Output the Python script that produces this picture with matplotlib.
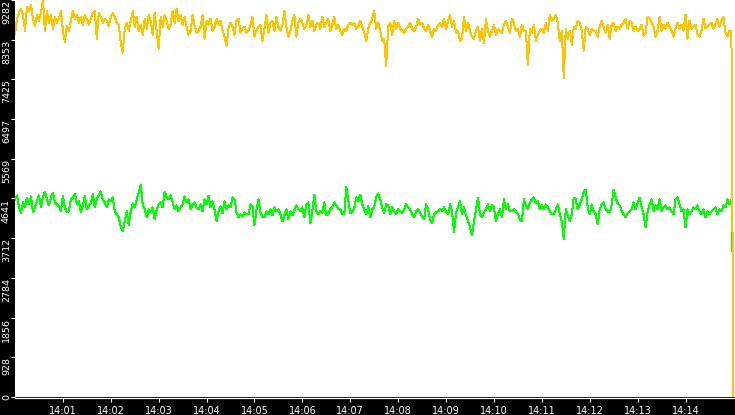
import matplotlib
matplotlib.use("Agg")
import matplotlib.pyplot as plt
import matplotlib.dates as mdates
import pandas as pd

# samples every 2.5 s from 14:00:00 to 14:15:00 (last sample is the drop at the end)
orange_vals = [
    8493, 8841, 8981, 9073, 8934, 8563, 9120, 9027, 9166, 8841,
    8679, 8934, 8795, 8981, 9282, 8563, 9027, 8749, 8934, 8609,
    8888, 8749, 8841, 9027, 8563, 8308, 8679, 8563, 8795, 9027,
    8841, 8934, 8749, 8888, 8702, 8934, 8841, 8702, 8841, 8981,
    9027, 8377, 8981, 8888, 8749,
    8841, 8795, 8679, 8888, 8981, 8888, 8749, 8702, 8285, 8053,
    8609, 8749, 8563, 8795, 9027, 8656, 8888, 8563, 8702, 8470,
    8841, 8609, 8934, 8795, 8470, 8981, 8563, 8145, 8888, 8656,
    8934, 8795, 8609, 8702, 9027, 8749, 9073, 8795, 8934, 8702,
    8888, 8656, 8470, 8563, 8934,
    8679, 8517, 8563, 8656, 8934, 8377, 8795, 8702, 8841, 8563,
    8656, 8841, 8702, 8795, 8563, 8424, 8215, 8609, 8749, 8656,
    8470, 8795, 8841, 8517, 8609, 8656, 8517, 8563, 8702, 8888,
    8424, 8563, 8656, 8702, 8331, 8609, 8934, 8517, 8749, 8795,
    8563, 8888, 8656, 8563, 8702,
    9027, 8656, 8424, 8563, 8795, 8934, 8424, 8749, 8841, 8749,
    8609, 8702, 8934, 8656, 8795, 8563, 8702, 8749, 8609, 8888,
    8656, 8749, 8841, 8563, 8702, 8888, 8609, 8702, 8563, 8470,
    8609, 8563, 8702, 8749, 8702, 8749, 8609, 8656, 8795, 8656,
    8517, 8331, 8609, 8749, 8841,
    9027, 8609, 8749, 8563, 8331, 8377, 7728, 8656, 8749, 8470,
    8795, 8609, 8749, 8609, 8563, 8517, 8609, 8656, 8749, 8609,
    8563, 8656, 8841, 8702, 8749, 8609, 8563, 8702, 8563, 8424,
    8609, 8563, 8702, 8749, 8656, 8841, 8609, 8795, 8934, 8656,
    8795, 8517, 8563, 8331, 8377,
    8888, 8563, 8749, 8563, 8424, 8377, 8563, 8656, 8331, 8609,
    8285, 8841, 8563, 8424, 8563, 8702, 8470, 8609, 8563, 8517,
    8702, 8795, 8656, 8517, 8841, 8749, 8563, 8609, 8424, 8702,
    8563, 8563, 7751, 8609, 8517, 8702, 8331, 8470, 8563, 8609,
    8517, 8749, 8563, 8934, 8795,
    8841, 8934, 8749, 8331, 8563, 7449, 8609, 8377, 8563, 8238,
    8656, 8609, 8795, 8749, 8563, 8099, 8656, 8609, 8470, 8609,
    8563, 8563, 8424, 8656, 8795, 8656, 8517, 8702, 8377, 8702,
    8749, 8563, 8656, 8609, 8702, 8749, 8841, 8609, 8795, 8749,
    8563, 8656, 8563, 8609, 8702,
    8447, 8517, 8888, 8841, 8749, 8656, 8424, 8563, 8888, 8563,
    8702, 8609, 8749, 8656, 8563, 8424, 8609, 8749, 8609, 8702,
    8563, 8934, 8377, 8795, 8609, 8656, 8702, 8470, 8424, 8563,
    8841, 8609, 8656, 8702, 8749, 8609, 8702, 8841, 8656, 8795,
    8888, 8517, 8424, 8563, 8563,
    0,
]

green_vals = [
    4619, 4712, 4433, 4294, 4549, 4433, 4665, 4503, 4689, 4317,
    4433, 4573, 4712, 4433, 4665, 4805, 4619, 4480, 4665, 4781,
    4549, 4503, 4457, 4341, 4712, 4433, 4317, 4341, 4619, 4665,
    4758, 4503, 4573, 4317, 4480, 4712, 4387, 4480, 4526, 4758,
    4433, 4619, 4735, 4805, 4619,
    4549, 4433, 4619, 4573, 4665, 4341, 4271, 4201, 3969, 3877,
    4109, 4341, 4016, 4341, 4526, 4433, 4619, 4781, 4967, 4503,
    4387, 4201, 4387, 4317, 4433, 4155, 4387, 4503, 4549, 4433,
    4805, 4665, 4619, 4712, 4549, 4387, 4480, 4341, 4433, 4503,
    4689, 4549, 4619, 4387, 4503,
    4549, 4433, 4387, 4503, 4341, 4619, 4503, 4712, 4433, 4573,
    4387, 4109, 4341, 4457, 4294, 4573, 4387, 4480, 4433, 4665,
    4619, 4317, 4201, 4271, 4225, 4317, 4271, 4271, 4503, 4457,
    4016, 4387, 4619, 4317, 4201, 4201, 4341, 4271, 4387, 4248,
    4433, 4341, 4387, 4271, 4109,
    4248, 4387, 4155, 4341, 4248, 4364, 4480, 4387, 4341, 4433,
    4201, 4503, 4549, 4062, 4341, 4735, 4341, 4271, 4341, 4294,
    4549, 4248, 4294, 4387, 4433, 4549, 4480, 4387, 4387, 4271,
    4271, 4921, 4619, 4294, 4341, 4410, 4665, 4573, 4735, 4503,
    4387, 4271, 4457, 4201, 4387,
    4433, 4665, 4758, 4619, 4433, 4294, 4503, 4480, 4271, 4433,
    4341, 4271, 4387, 4341, 4294, 4387, 4503, 4433, 4387, 4271,
    4201, 4341, 4387, 4317, 4201, 4155, 4503, 4387, 4155, 4062,
    4271, 4317, 4341, 4387, 4341, 4433, 4341, 4271, 4503, 4341,
    3853, 4294, 4433, 4573, 4271,
    4433, 4248, 4109, 3969, 3784, 4109, 4387, 4665, 4271, 4201,
    4317, 4387, 4503, 4341, 4480, 4433, 4109, 4294, 4387, 4201,
    4619, 4387, 4503, 4341, 4341, 4387, 4341, 4271, 4155, 4109,
    4619, 4480, 4387, 4549, 4619, 4665, 4526, 4573, 4387, 4480,
    4387, 4503, 4433, 4341, 4271,
    4271, 4387, 4503, 4271, 4109, 3691, 4387, 4248, 4109, 4271,
    4665, 4619, 4387, 4503, 4619, 4805, 4851, 4433, 4271, 4503,
    4341, 4271, 4039, 4387, 4503, 4549, 4387, 4341, 4317, 4503,
    4851, 4665, 4526, 4480, 4341, 4271, 4201, 4294, 4341, 4387,
    4549, 4387, 4526, 4665, 4433,
    4271, 3969, 4341, 4503, 4619, 4341, 4480, 4387, 4619, 4341,
    4433, 4480, 4387, 4433, 4341, 4271, 4619, 4665, 4503, 4341,
    4387, 3969, 4387, 4271, 4341, 4433, 4387, 4480, 4341, 4271,
    4387, 4201, 4341, 4271, 4341, 4387, 4433, 4271, 4387, 4341,
    4480, 4433, 4619, 4503, 4619,
    2390,
]

y_ticks = [0, 928, 1856, 2784, 3712, 4641, 5569, 6497, 7425, 8353, 9282]
y_max = 9282

times = pd.date_range("2024-01-01 14:00:00", periods=len(orange_vals), freq="2500ms")

fig = plt.figure(figsize=(7.35, 4.15), dpi=100, facecolor="black")
ax = fig.add_axes([15 / 735, 18 / 415, 720 / 735, 397 / 415])
ax.set_facecolor("white")

ax.plot(times, green_vals, color="#00ff00", lw=0.72, antialiased=False)
ax.plot(times, orange_vals, color="#ffc400", lw=0.72, antialiased=False)

ax.set_ylim(0, y_max)
ax.set_xlim(times[0], times[-1] + pd.Timedelta(seconds=2))

ax.set_yticks(y_ticks)
ax.set_yticklabels([str(v) for v in y_ticks])
ax.xaxis.set_major_locator(mdates.MinuteLocator(byminute=range(1, 15)))
ax.xaxis.set_major_formatter(mdates.DateFormatter("%H:%M"))

for side in ["left", "top", "right"]:
    ax.spines[side].set_visible(False)
ax.spines["bottom"].set_color("white")
ax.spines["bottom"].set_linewidth(0.9)
ax.spines["bottom"].set_position(("outward", 1))

ax.tick_params(axis="both", colors="white", direction="out", length=3,
               width=0.8, labelsize=6.8)
ax.tick_params(axis="x", pad=2.2, labelsize=7)
ax.tick_params(axis="y", pad=3.2)

for lbl in ax.get_yticklabels():
    lbl.set_rotation(90)
    lbl.set_ha("center")
    lbl.set_va("top")
ax.get_yticklabels()[0].set_va("center")

fig.savefig("out.png", dpi=100, facecolor="black")
